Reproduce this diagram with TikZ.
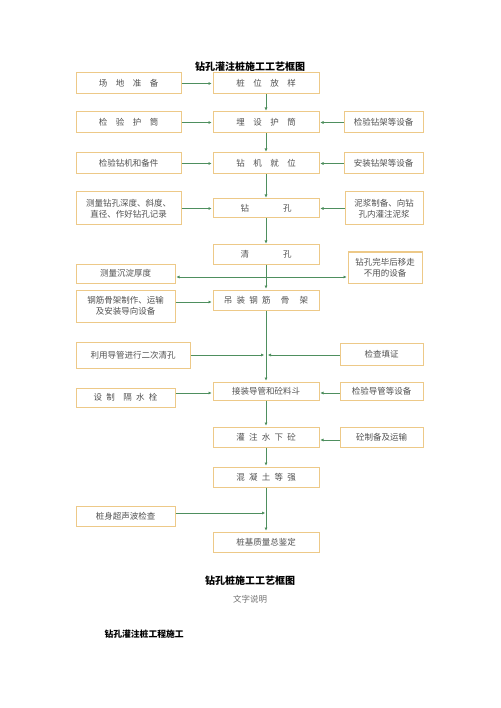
\documentclass[tikz,border=0pt]{standalone}
\usepackage{fontspec}
\setmainfont{Noto Sans CJK SC}
\usetikzlibrary{arrows.meta}
\definecolor{boxline}{HTML}{EDC988}
\definecolor{flow}{HTML}{4E8F5E}
\definecolor{boxtext}{HTML}{505050}
\definecolor{subtext}{HTML}{707070}
\begin{document}
\begin{tikzpicture}[x=1pt,y=-1pt,
  bx/.style={draw=boxline,line width=1pt,inner sep=0pt,align=center,
    text=boxtext,font=\fontsize{8.5}{11}\selectfont},
  arr/.style={draw=flow,line width=0.8pt,-{Triangle[length=3pt,width=2.6pt]},shorten >=1pt},
  ln/.style={draw=flow,line width=0.8pt}]
\useasboundingbox (0,0) rectangle (500,708);
\newcommand{\bxat}[7]{\node[bx,minimum width=#4-#2,minimum height=#5-#3] (#1) at ({(#2+#4)/2},{(#3+#5)/2}) {#6};}
% title
\node[font=\bfseries\fontsize{10}{12}\selectfont] (title) at (250,67) {钻孔灌注桩施工工艺框图};
% center column
\bxat{c1}{213}{73}{319}{94}{桩\hspace{1em}位\hspace{1em}放\hspace{1em}样}{}
\bxat{c2}{213}{112}{319}{133}{埋\hspace{1em}设\hspace{1em}护\hspace{1em}筒}{}
\bxat{c3}{213}{153}{319}{174}{钻\hspace{1em}机\hspace{1em}就\hspace{1em}位}{}
\bxat{c4}{213}{199}{319}{218}{钻\hspace{4em}孔}{}
\bxat{c5}{213}{245}{319}{264}{清\hspace{4em}孔}{}
\bxat{c6}{213}{290}{319}{310}{吊\hspace{0.5em}装\hspace{0.5em}钢\hspace{0.5em}筋\hspace{1.2em}骨\hspace{1.2em}架}{}
\bxat{c8}{213}{382}{319}{400}{接装导管和砼料斗}{}
\bxat{c9}{213}{427}{319}{447}{灌\hspace{0.5em}注\hspace{0.5em}水\hspace{0.5em}下\hspace{0.5em}砼}{}
\bxat{c10}{213}{467}{319}{487}{混\hspace{0.5em}凝\hspace{0.5em}土\hspace{0.5em}等\hspace{0.5em}强}{}
\bxat{c12}{213}{532}{319}{552}{桩基质量总鉴定}{}
% left column
\bxat{l1}{76}{73}{181}{94}{场\hspace{1em}地\hspace{1em}准\hspace{1em}备}{}
\bxat{l2}{76}{112}{181}{133}{检\hspace{1em}验\hspace{1em}护\hspace{1em}筒}{}
\bxat{l3}{76}{153}{181}{174}{检验钻机和备件}{}
\bxat{l4}{76}{192}{181}{225}{测量钻孔深度、斜度、\\直径、作好钻孔记录}{}
\bxat{l5}{76}{264}{175}{283}{测量沉淀厚度}{}
\bxat{l6}{76}{290}{175}{322}{钢筋骨架制作、运输\\及安装导向设备}{}
\bxat{l7}{76}{342}{190}{368}{利用导管进行二次清孔}{}
\bxat{l8}{76}{388}{175}{407}{设\hspace{0.5em}制\hspace{1em}隔\hspace{0.5em}水\hspace{0.5em}栓}{}
\bxat{l11}{76}{506}{175}{526}{桩身超声波检查}{}
% right column
\bxat{r2}{344}{112}{423}{133}{检验钻架等设备}{}
\bxat{r3}{344}{153}{423}{174}{安装钻架等设备}{}
\bxat{r4}{345}{192}{423}{225}{泥浆制备、向钻\\孔内灌注泥浆}{}
\bxat{r5}{348}{252}{422}{283}{钻孔完毕后移走\\不用的设备}{}
\bxat{r7}{340}{343}{423}{365}{检查填证}{}
\bxat{r8}{340}{382}{423}{400}{检验导管等设备}{}
\bxat{r9}{340}{427}{423}{447}{砼制备及运输}{}
% junction coordinates
\coordinate (j5) at (266,277);
\coordinate (j7) at (266,355);
\coordinate (j11) at (266,513);
% main flow
\draw[arr] (c1) -- (c2);
\draw[arr] (c2) -- (c3);
\draw[arr] (c3) -- (c4);
\draw[arr] (c4) -- (c5);
\draw[arr] (c5) -- (c6);
\draw[arr] (c6) -- (c8);
\draw[arr] (c8) -- (c9);
\draw[arr] (c9) -- (c10);
\draw[arr] (c10) -- (c12);
% side inputs
\draw[arr] (l1) -- (c1);
\draw[arr] (l2) -- (c2);
\draw[arr] (l3) -- (c3);
\draw[arr] (l4) -- (c4);
\draw[arr] (r2) -- (c2);
\draw[arr] (r3) -- (c3);
\draw[arr] (r4) -- (c4);
\draw[arr] (j5) -- (l5.east |- j5);
\draw[arr] (j5) -- (r5.west |- j5);
\draw[arr] (l6.east |- 0,302) -- (c6.west |- 0,302);
\draw[arr] (l7.east |- j7) -- ([xshift=-1pt]j7);
\draw[arr] (r7.west |- j7) -- ([xshift=1pt]j7);
\draw[arr] (l8.east |- 0,393) -- (c8.west |- 0,393);
\draw[arr] (r8.west |- 0,393) -- (c8.east |- 0,393);
\draw[arr] (r9.west |- 0,440) -- (c9.east |- 0,440);
\draw[arr] (l11.east |- j11) -- (j11);
% captions
\node[font=\bfseries\fontsize{10}{12}\selectfont] (cap) at (250,581) {钻孔桩施工工艺框图};
\node[font=\fontsize{8.5}{10}\selectfont,text=subtext] (sub) at (250,599) {文字说明};
\node[font=\bfseries\fontsize{8.8}{10}\selectfont,anchor=west] (sec) at (101,634) {钻孔灌注桩工程施工};
\end{tikzpicture}
\end{document}
